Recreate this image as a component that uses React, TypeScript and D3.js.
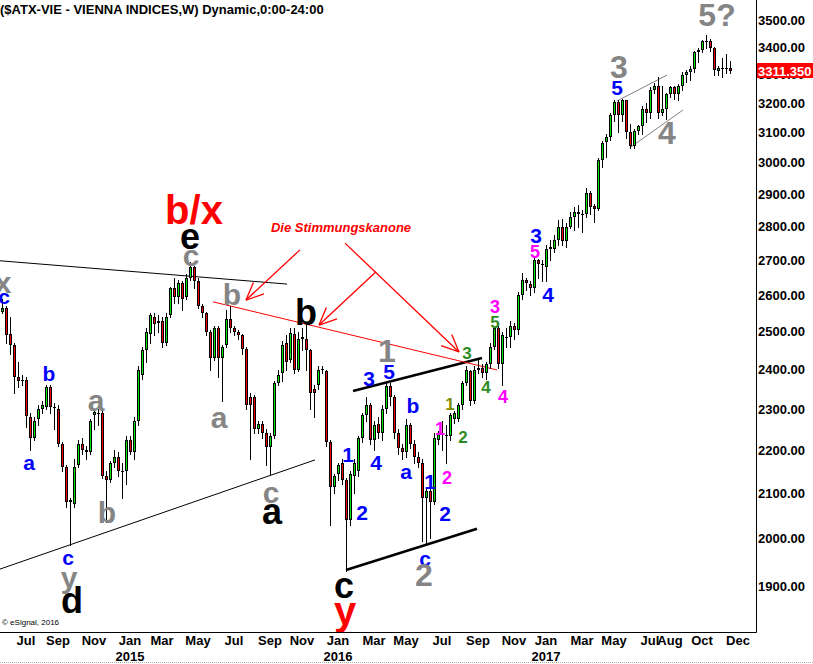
import React from 'react';
import * as d3 from 'd3';

const W = 813;
const H = 664;
const FONT = '"Liberation Sans", Arial, sans-serif';

// first weekly bar (Monday)
const START = new Date(2014, 4, 26);

// weekly bars [open, high, low, close]
const bars2014: number[][] = [
  [2555, 2590, 2550, 2565], [2565, 2570, 2470, 2490], [2495, 2540, 2440, 2465], [2465, 2470, 2340, 2380],
  [2380, 2420, 2355, 2370], [2372, 2385, 2360, 2373], [2372, 2380, 2255, 2283], [2280, 2290, 2200, 2230],
  [2230, 2280, 2225, 2270], [2275, 2310, 2260, 2300], [2300, 2320, 2290, 2310], [2305, 2360, 2300, 2355],
  [2355, 2360, 2290, 2305], [2305, 2315, 2250, 2302], [2300, 2310, 2210, 2215], [2215, 2220, 2150, 2160],
  [2160, 2165, 2070, 2080], [2080, 2090, 1985, 2085], [2075, 2180, 2070, 2160], [2165, 2225, 2160, 2215],
  [2215, 2230, 2190, 2200], [2200, 2210, 2180, 2195], [2195, 2275, 2190, 2270], [2285, 2300, 2250, 2292],
  [2290, 2300, 2260, 2291], [2290, 2295, 2135, 2140], [2140, 2150, 2035, 2130], [2130, 2175, 2125, 2170],
  [2170, 2200, 2160, 2185], [2185, 2195, 2140, 2150], [2150, 2170, 2090, 2151], [2150, 2235, 2120, 2225],
];
const bars2015: number[][] = [
  [2225, 2235, 2190, 2195], [2195, 2280, 2180, 2270], [2270, 2410, 2260, 2400], [2385, 2460, 2375, 2450],
  [2450, 2510, 2420, 2500], [2495, 2550, 2470, 2545], [2540, 2550, 2490, 2520], [2525, 2545, 2500, 2530],
  [2530, 2540, 2460, 2470], [2470, 2550, 2465, 2540], [2545, 2625, 2540, 2620], [2620, 2650, 2580, 2595],
  [2595, 2645, 2580, 2635], [2635, 2640, 2560, 2590], [2595, 2660, 2590, 2650], [2650, 2695, 2645, 2680],
  [2680, 2685, 2620, 2640], [2640, 2650, 2565, 2570], [2570, 2575, 2540, 2550], [2550, 2555, 2490, 2500],
  [2500, 2505, 2400, 2430], [2430, 2515, 2425, 2510], [2510, 2515, 2380, 2430], [2430, 2465, 2320, 2460],
  [2465, 2560, 2460, 2535], [2535, 2570, 2500, 2510], [2510, 2515, 2490, 2500], [2500, 2505, 2480, 2490],
  [2490, 2495, 2440, 2455], [2455, 2460, 2300, 2310], [2330, 2340, 2180, 2310], [2330, 2335, 2240, 2250],
  [2250, 2270, 2240, 2262], [2262, 2270, 2230, 2240], [2240, 2250, 2165, 2207], [2207, 2240, 2145, 2235],
  [2235, 2370, 2230, 2365], [2365, 2400, 2360, 2385], [2390, 2475, 2370, 2465], [2470, 2490, 2400, 2420],
  [2425, 2510, 2420, 2497], [2495, 2510, 2390, 2400], [2400, 2500, 2395, 2480], [2485, 2510, 2450, 2480],
  [2480, 2520, 2400, 2450], [2450, 2455, 2300, 2340], [2350, 2360, 2280, 2340], [2360, 2410, 2350, 2400],
  [2400, 2410, 2390, 2401], [2395, 2400, 2210, 2220], [2220, 2225, 2030, 2115], [2115, 2145, 2100, 2140],
];
const bars2016: number[][] = [
  [2145, 2170, 2130, 2165], [2170, 2180, 2120, 2130], [2130, 2135, 1930, 2040], [2040, 2150, 2030, 2145],
  [2140, 2180, 2100, 2170], [2150, 2235, 2140, 2230], [2230, 2290, 2220, 2285], [2285, 2330, 2270, 2310],
  [2310, 2315, 2215, 2225], [2225, 2270, 2200, 2260], [2262, 2280, 2230, 2240], [2240, 2310, 2225, 2300],
  [2300, 2365, 2290, 2357], [2357, 2365, 2310, 2330], [2330, 2335, 2230, 2240], [2240, 2250, 2190, 2205],
  [2205, 2215, 2180, 2195], [2195, 2275, 2185, 2260], [2260, 2265, 2205, 2215], [2215, 2225, 2170, 2185],
  [2185, 2195, 2160, 2170], [2170, 2180, 1995, 2090], [2090, 2110, 1990, 2105], [2105, 2115, 2000, 2080],
  [2080, 2240, 2075, 2230], [2225, 2245, 2215, 2240], [2240, 2270, 2200, 2241], [2236, 2260, 2170, 2235],
  [2235, 2290, 2225, 2285], [2275, 2295, 2265, 2290], [2275, 2315, 2270, 2310], [2310, 2370, 2300, 2365],
  [2365, 2410, 2360, 2400], [2395, 2400, 2310, 2320], [2320, 2410, 2315, 2400], [2400, 2425, 2390, 2405],
  [2405, 2415, 2380, 2390], [2390, 2420, 2375, 2415], [2415, 2470, 2405, 2460], [2460, 2515, 2455, 2510],
  [2510, 2515, 2405, 2415], [2415, 2500, 2360, 2490], [2485, 2510, 2460, 2487], [2485, 2530, 2460, 2515],
  [2515, 2525, 2480, 2505], [2505, 2610, 2495, 2600], [2600, 2665, 2590, 2645], [2645, 2650, 2615, 2635],
  [2632, 2640, 2600, 2620], [2620, 2710, 2610, 2700], [2700, 2705, 2650, 2690], [2690, 2700, 2640, 2688],
];
const bars2017: number[][] = [
  [2680, 2745, 2640, 2735], [2735, 2760, 2700, 2738], [2735, 2775, 2725, 2760], [2760, 2820, 2745, 2800],
  [2800, 2825, 2745, 2758], [2758, 2810, 2740, 2800], [2800, 2845, 2795, 2830], [2830, 2860, 2790, 2845],
  [2845, 2865, 2800, 2838], [2838, 2850, 2785, 2836], [2840, 2920, 2830, 2905], [2905, 2910, 2840, 2860],
  [2862, 2870, 2815, 2855], [2855, 3015, 2850, 3010], [3010, 3070, 2985, 3065], [3068, 3095, 3020, 3085],
  [3085, 3165, 3075, 3160], [3160, 3210, 3140, 3205], [3205, 3212, 3100, 3160], [3160, 3215, 3140, 3210],
  [3210, 3212, 3080, 3100], [3100, 3130, 3050, 3055], [3055, 3110, 3050, 3105], [3105, 3125, 3095, 3120],
  [3120, 3190, 3095, 3180], [3180, 3200, 3135, 3165], [3165, 3255, 3150, 3245], [3245, 3270, 3235, 3260],
  [3260, 3290, 3150, 3165], [3165, 3260, 3160, 3180], [3180, 3235, 3145, 3230], [3230, 3260, 3220, 3255],
  [3255, 3260, 3215, 3230], [3230, 3265, 3210, 3260], [3260, 3310, 3245, 3300], [3300, 3315, 3275, 3310],
  [3310, 3330, 3280, 3320], [3320, 3385, 3310, 3380], [3380, 3395, 3345, 3390], [3390, 3425, 3380, 3420],
  [3420, 3445, 3395, 3421], [3420, 3430, 3385, 3395], [3395, 3400, 3300, 3315], [3312, 3330, 3300, 3325],
  [3322, 3360, 3290, 3321], [3320, 3375, 3305, 3322], [3325, 3350, 3305, 3311.35],
];

const bars = [...bars2014, ...bars2015, ...bars2016, ...bars2017];
const lastPrice = 3311.35;

const priceTicks = [1900, 2000, 2100, 2200, 2300, 2400, 2500, 2600, 2700, 2800, 2900, 3000, 3100, 3200, 3300, 3400, 3500];

const monthTicks: [string, string][] = [
  ['2014-07-01', 'Jul'], ['2014-09-01', 'Sep'], ['2014-11-01', 'Nov'], ['2015-01-01', 'Jan'],
  ['2015-03-01', 'Mar'], ['2015-05-01', 'May'], ['2015-07-01', 'Jul'], ['2015-09-01', 'Sep'],
  ['2015-11-01', 'Nov'], ['2016-01-01', 'Jan'], ['2016-03-01', 'Mar'], ['2016-05-01', 'May'],
  ['2016-07-01', 'Jul'], ['2016-09-01', 'Sep'], ['2016-11-01', 'Nov'], ['2017-01-01', 'Jan'],
  ['2017-03-01', 'Mar'], ['2017-05-01', 'May'], ['2017-07-01', 'Jul'], ['2017-08-01', 'Aug'],
  ['2017-10-01', 'Oct'], ['2017-12-01', 'Dec'],
];
const yearTicks: [string, string][] = [['2015-01-01', '2015'], ['2016-01-01', '2016'], ['2017-01-01', '2017']];

// wave labels: [text, bar index, price, style]
const waveLabels: [string, number, number, string][] = [
  ['x', 0.25, 2638, 'grayM'],
  ['c', 0.5, 2598, 'blue'],
  ['b', 11.75, 2389, 'blue'],
  ['a', 6.75, 2170, 'blue'],
  ['a', 23.5, 2322, 'grayM'],
  ['b', 26.25, 2058, 'grayM'],
  ['c', 16.5, 1960, 'blue'],
  ['y', 16.75, 1918, 'grayM'],
  ['d', 17.5, 1871, 'black'],
  ['c', 47.25, 2716, 'grayM'],
  ['e', 47, 2772, 'black'],
  ['b/x', 48, 2851, 'red'],
  ['b', 57.5, 2604, 'grayM'],
  ['a', 54.25, 2280, 'grayM'],
  ['c', 67.25, 2103, 'grayM'],
  ['a', 67.5, 2060, 'black'],
  ['b', 76, 2554, 'black'],
  ['1', 96.25, 2451, 'grayL'],
  ['5', 96.75, 2396, 'blue'],
  ['3', 91.75, 2376, 'blue'],
  ['b', 102.75, 2310, 'blue'],
  ['1', 86.5, 2191, 'blue'],
  ['4', 93.5, 2170, 'blue'],
  ['a', 101, 2151, 'blue'],
  ['1', 107, 2126, 'blue'],
  ['2', 90, 2058, 'blue'],
  ['2', 110.75, 2054, 'blue'],
  ['c', 105.75, 1958, 'blue'],
  ['2', 105.5, 1923, 'grayL'],
  ['c', 85.5, 1902, 'black'],
  ['y', 85.75, 1851, 'red'],
  ['1', 109.5, 2253, 'magenta'],
  ['2', 111.25, 2135, 'magenta'],
  ['1', 112, 2312, 'olive'],
  ['2', 115.25, 2231, 'green'],
  ['3', 116.25, 2443, 'green'],
  ['3', 123.25, 2568, 'magenta'],
  ['5', 123.25, 2526, 'green'],
  ['4', 121, 2355, 'green'],
  ['4', 125.25, 2332, 'magenta'],
  ['3', 133.5, 2775, 'blue'],
  ['5', 133.25, 2725, 'magenta'],
  ['4', 136.5, 2604, 'blue'],
  ['3', 154.25, 3327, 'grayL'],
  ['5', 153.75, 3256, 'blue'],
  ['4', 166.25, 3101, 'grayL'],
  ['5?', 178.75, 3520, 'grayL'],
];

const noteText: [string, number, number] = ['Die Stimmungskanone', 84.75, 2799];

// trend lines: [idx1, price1, idx2, price2, style]
const trendLines: [number, number, number, number, string][] = [
  [-0.5, 2699, 71.25, 2632, 'thin'],
  [-0.5, 1935, 78.25, 2177, 'thin'],
  [87.75, 2345, 120, 2430, 'thick'],
  [86, 1933, 118.75, 2021, 'thick'],
  [52.75, 2582, 123.75, 2399, 'red'],
  [153.75, 3207, 166.25, 3298, 'gray'],
  [157.25, 3052, 170.25, 3176, 'gray'],
];

// arrows: [fromIdx, fromPrice, tipIdx, tipPrice]
const arrows: [number, number, number, number][] = [
  [74.5, 2731, 61, 2587],
  [93.5, 2667, 79.25, 2518],
  [85.75, 2751, 114.25, 2446],
];

const labelStyles: Record<string, { fill: string; size: number }> = {
  grayM: { fill: '#858585', size: 30 },
  grayL: { fill: '#858585', size: 32 },
  blue: { fill: '#0000ff', size: 21 },
  black: { fill: '#000000', size: 36 },
  red: { fill: '#ff0000', size: 40 },
  magenta: { fill: '#ff00ff', size: 18 },
  green: { fill: '#2e8b1e', size: 17 },
  olive: { fill: '#7f8c00', size: 17 },
};

const lineStyles: Record<string, { stroke: string; width: number }> = {
  thin: { stroke: '#000', width: 1 },
  thick: { stroke: '#000', width: 2.5 },
  red: { stroke: '#ff0000', width: 1 },
  gray: { stroke: '#808080', width: 1 },
};

const DAY = 86400000;
function barIndexOf(dateStr: string) {
  const [y, m, d] = dateStr.split('-').map(Number);
  const t = new Date(y, m - 1, d).getTime();
  return Math.ceil(Math.round((t - START.getTime()) / DAY) / 7);
}

export default function App() {
  const x = d3.scaleLinear().domain([0, bars.length - 1]).range([2, 730]);
  const y = d3.scaleLog().domain([1900, 3500]).range([586, 20]);
  const frameRight = 756.5;
  const frameBottom = 632.5;

  return (
    <svg width={W} height={H} style={{ position: 'absolute', left: 0, top: 0, background: '#fff' }} fontFamily={FONT}>
      <rect x={0} y={0} width={W} height={H} fill="#fff" />
      {/* trend lines */}
      {trendLines.map(([i1, p1, i2, p2, s], k) => (
        <line key={'tl' + k} x1={x(i1)} y1={y(p1)} x2={x(i2)} y2={y(p2)}
          stroke={lineStyles[s].stroke} strokeWidth={lineStyles[s].width} />
      ))}
      {/* candles */}
      <g shapeRendering="crispEdges">
        {bars.map(([o, h, l, c], i) => {
          const cx = Math.round(x(i));
          const top = Math.round(y(Math.max(o, c)));
          const bot = Math.round(y(Math.min(o, c)));
          const up = c >= o;
          return (
            <g key={i}>
              <line x1={cx + 0.5} x2={cx + 0.5} y1={Math.round(y(h))} y2={Math.round(y(l)) + 1} stroke="#000" />
              {bot - top < 2 ? (
                <line x1={cx - 1} x2={cx + 2} y1={top + 0.5} y2={top + 0.5} stroke="#000" />
              ) : (
                <rect x={cx - 0.5} y={top + 0.5} width={2} height={bot - top - 1}
                  fill={up ? '#00e600' : '#ee0000'} stroke="#000" strokeWidth={1} />
              )}
            </g>
          );
        })}
      </g>
      {/* arrows */}
      {arrows.map(([fi, fp, ti, tp], k) => {
        const x1 = x(fi), y1 = y(fp), x2 = x(ti), y2 = y(tp);
        const a = Math.atan2(y1 - y2, x1 - x2);
        const L = 19, da = 0.42;
        return (
          <g key={'ar' + k} stroke="#ff0000" strokeWidth={1.3} fill="none">
            <line x1={x1} y1={y1} x2={x2} y2={y2} />
            <line x1={x2} y1={y2} x2={x2 + L * Math.cos(a + da)} y2={y2 + L * Math.sin(a + da)} />
            <line x1={x2} y1={y2} x2={x2 + L * Math.cos(a - da)} y2={y2 + L * Math.sin(a - da)} />
          </g>
        );
      })}
      {/* wave labels */}
      {waveLabels.map(([t, i, p, s], k) => (
        <text key={'wl' + k} x={x(i)} y={y(p)} dy="0.36em" textAnchor="middle"
          fontWeight="bold" fontSize={labelStyles[s].size} fill={labelStyles[s].fill}>{t}</text>
      ))}
      <text x={x(noteText[1])} y={y(noteText[2])} dy="0.36em" textAnchor="middle" fontWeight="bold"
        fontStyle="italic" fontSize={13} fill="#ff0000">{noteText[0]}</text>

      {/* title */}
      <text x={0} y={14} fontWeight="bold" fontSize={13} fill="#000">($ATX-VIE - VIENNA INDICES,W) Dynamic,0:00-24:00</text>
      <text x={2} y={625} fontSize={8} fill="#000">© eSignal, 2016</text>

      {/* frame */}
      <line x1={frameRight} x2={frameRight} y1={0} y2={frameBottom} stroke="#000" />
      <line x1={0} x2={frameRight} y1={frameBottom} y2={frameBottom} stroke="#000" />

      {/* price axis */}
      {priceTicks.map((p) => (
        <text key={'pt' + p} x={758} y={y(p)} dy="0.36em" fontWeight="bold" fontSize={13} fill="#000">
          {p.toFixed(2)}
        </text>
      ))}
      <rect x={757} y={Math.round(y(lastPrice)) - 8} width={W - 757} height={15} fill="#ff0000" />
      <text x={758} y={y(lastPrice)} dy="0.36em" fontWeight="bold" fontSize={13} fill="#fff">
        {lastPrice.toFixed(3)}
      </text>

      {/* time axis */}
      {monthTicks.map(([d, lab], k) => (
        <text key={'mt' + k} x={x(barIndexOf(d))} y={645} textAnchor="middle" fontWeight="bold" fontSize={13} fill="#000">{lab}</text>
      ))}
      {yearTicks.map(([d, lab], k) => (
        <text key={'yt' + k} x={x(barIndexOf(d))} y={661} textAnchor="middle" fontWeight="bold" fontSize={13} fill="#000">{lab}</text>
      ))}
      <line x1={0} x2={W} y1={662.5} y2={662.5} stroke="#aaa" strokeDasharray="1,1" />
    </svg>
  );
}
